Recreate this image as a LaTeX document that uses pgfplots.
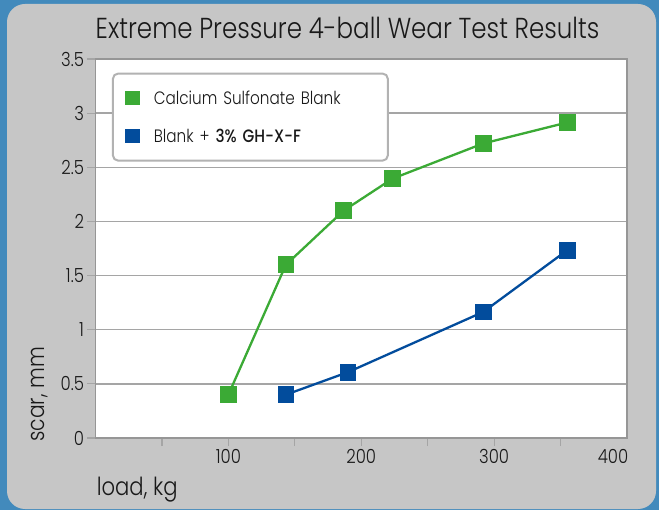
\documentclass[border=0pt]{standalone}
\usepackage{pgfplots}
\pgfplotsset{compat=1.18}
\usepackage{fontspec}
\setmainfont{Poppins}[UprightFont={* Light}, BoldFont={* Medium}, FakeStretch=0.85]

\definecolor{csgreen}{RGB}{59,170,53}
\definecolor{ghblue}{RGB}{2,76,156}
\definecolor{outerblue}{RGB}{66,138,188}
\definecolor{panelgrey}{RGB}{198,198,198}
\definecolor{gridgrey}{RGB}{165,165,165}
\definecolor{framegrey}{RGB}{150,150,150}
\definecolor{legendgrey}{RGB}{178,178,178}
\definecolor{txt}{RGB}{25,25,25}

\begin{document}
\begin{tikzpicture}
% backdrop
\fill[outerblue] (0,0) rectangle (659bp,510bp);
\fill[panelgrey, rounded corners=18bp] (7bp,1bp) rectangle (656bp,506bp);

\begin{axis}[
    at={(95.5bp,72bp)}, anchor=south west,
    scale only axis, width=531.5bp, height=379bp,
    xmin=0, xmax=400, ymin=0, ymax=3.5,
    axis background/.style={fill=white},
    axis line style={framegrey, line width=1.3bp},
    xtick={50,100,...,350},
    xticklabels={,100,,200,,300,},
    extra x ticks={400}, extra x tick labels={400},
    extra x tick style={xticklabel style={xshift=-14bp}, tick style={draw=none}},
    ytick={0,0.5,...,3.5},
    ymajorgrids,
    grid style={gridgrey, line width=1.3bp},
    tick pos=left, tick align=outside, major tick length=8bp,
    tick style={gridgrey, line width=1.2bp},
    /pgf/number format/assume math mode=true,
    ticklabel style={font=\fontsize{19.5}{19.5}\selectfont, text=txt},
    title={Extreme Pressure 4-ball Wear Test Results},
    title style={at={(axis description cs:0,1.037)}, anchor=base west, inner sep=0pt,
        font=\fontsize{29}{29}\selectfont, text=txt},
    xlabel={load, kg},
    xlabel style={at={(axis description cs:0.002,-0.135)}, anchor=west, inner sep=0pt,
        font=\fontsize{25}{25}\selectfont, text=txt},
    ylabel={scar, mm},
    ylabel style={at={(axis description cs:-0.105,0.115)}, anchor=center, inner sep=0pt,
        font=\fontsize{24}{24}\selectfont, text=txt},
    legend cell align=left,
    legend image code/.code={\path[#1] (0,0) node[rectangle, sharp corners, fill, inner sep=0pt, minimum size=14.5bp]{};},
    legend style={at={(axis description cs:0.031,0.964)}, anchor=north west,
        draw=legendgrey, line width=2bp, rounded corners=5bp, fill=white,
        font=\fontsize{18}{18}\selectfont, text=txt,
        inner xsep=10bp, inner ysep=15bp, row sep=19bp,
        /tikz/every odd column/.append style={column sep=12bp},
        /tikz/every even column/.append style={text width=222bp}},
]
\addplot[csgreen, line width=2.3bp, mark=square*, mark size=7.2bp, mark options={solid, draw=none}]
    coordinates {(100,0.4) (143.3,1.6) (186.8,2.1) (223.5,2.395) (291.8,2.72) (355,2.914)};
\addlegendentry{Calcium Sulfonate Blank}
\addplot[ghblue, line width=2.3bp, mark=square*, mark size=7.2bp, mark options={solid, draw=none}]
    coordinates {(143.3,0.4) (190,0.608) (291.8,1.164) (355,1.734)};
\addlegendentry{Blank + \textbf{3\% GH-X-F}}
\end{axis}
\pgfresetboundingbox
\path (0,0) rectangle (659bp,510bp);
\end{tikzpicture}
\end{document}
